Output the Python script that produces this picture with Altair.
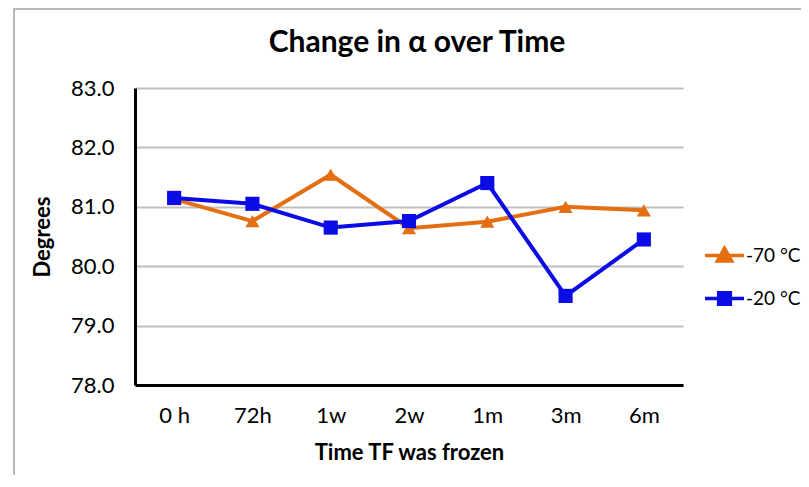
import altair as alt
import pandas as pd

categories = ["0 h", "72h", "1w", "2w", "1m", "3m", "6m"]
series_names = ["-70 °C", "-20 °C"]
values_m70 = [81.13, 80.76, 81.54, 80.64, 80.75, 81.0, 80.94]
values_m20 = [81.15, 81.05, 80.65, 80.76, 81.40, 79.50, 80.45]
colors = ["#E36F12", "#0B0BE6"]
marker_shapes = ["triangle-up", "square"]

rows = []
for c, v in zip(categories, values_m70):
    rows.append({"time": c, "deg": v, "series": series_names[0]})
for c, v in zip(categories, values_m20):
    rows.append({"time": c, "deg": v, "series": series_names[1]})
df = pd.DataFrame(rows)

FONT = "Lato"
# legend symbols: a short line with the marker on it
tri = "M-2.6,0H2.6M0,-0.95L0.95,0.72L-0.95,0.72Z"
sq = "M-2.6,0H2.6M-0.78,-0.78H0.78V0.78H-0.78Z"

x_enc = alt.X("time:N", sort=categories, title="Time TF was frozen",
              scale=alt.Scale(paddingOuter=0.5),
              axis=alt.Axis(labelAngle=0, ticks=False, labelPadding=20, titlePadding=16,
                            domainColor="black", domainWidth=3, grid=False, zindex=1))
y_enc = alt.Y("deg:Q", title="Degrees",
              scale=alt.Scale(domain=[78, 83], nice=False),
              axis=alt.Axis(values=[78, 79, 80, 81, 82, 83], format=".1f", ticks=False,
                            labelPadding=21, titlePadding=16, domainColor="black",
                            domainWidth=3, gridColor="#c0c0c0", gridWidth=2))
col_scale = alt.Scale(domain=series_names, range=colors)

frame = alt.Chart(pd.DataFrame({"k": [0]})).mark_rect(
    fill="transparent", stroke="#a0a0a0", strokeWidth=1.5
).encode(x=alt.value(-121), x2=alt.value(700), y=alt.value(-79), y2=alt.value(420))

layers = [frame]
for name, col, shp in zip(series_names, colors, marker_shapes):
    sub = alt.Chart(df).transform_filter(alt.datum.series == name)
    layers.append(sub.mark_line(strokeWidth=4, color=col).encode(x=x_enc, y=y_enc))
    layers.append(sub.mark_point(filled=True, size=200, shape=shp, color=col,
                                 strokeWidth=0, opacity=1).encode(x=x_enc, y=y_enc))

leg = alt.Legend(title=None, orient="none", legendX=580, legendY=158,
                 labelFont=FONT, labelFontSize=19, labelColor="black",
                 symbolSize=225, symbolStrokeWidth=3.5, labelOffset=12,
                 rowPadding=17, padding=0)
legend_layer = alt.Chart(df).transform_filter("datum.deg > 1000").mark_point(
    filled=True, size=225, strokeWidth=3.5, opacity=1
).encode(
    x=x_enc, y=y_enc,
    fill=alt.Fill("series:N", scale=col_scale, sort=series_names, legend=leg),
    stroke=alt.Stroke("series:N", scale=col_scale, sort=series_names, legend=leg),
    shape=alt.Shape("series:N", scale=alt.Scale(domain=series_names, range=[tri, sq]),
                    sort=series_names, legend=leg),
)
layers.append(legend_layer)

chart = alt.layer(*layers).properties(
    width=548, height=297,
    title=alt.Title("Change in α over Time", fontSize=30, fontWeight="bold", font=FONT,
                    color="black", offset=-50, anchor="middle", frame="group", dx=8),
    padding={"left": 127, "top": 80, "right": 118, "bottom": 90},
    autosize=alt.AutoSizeParams(type="none"),
).configure_view(stroke=None).configure_axis(
    labelFont=FONT, titleFont=FONT, labelFontSize=22, titleFontSize=22,
    labelColor="black", titleColor="black", titleFontWeight="bold",
)

chart.save("out.html", embed_options={"renderer": "svg", "actions": False})
